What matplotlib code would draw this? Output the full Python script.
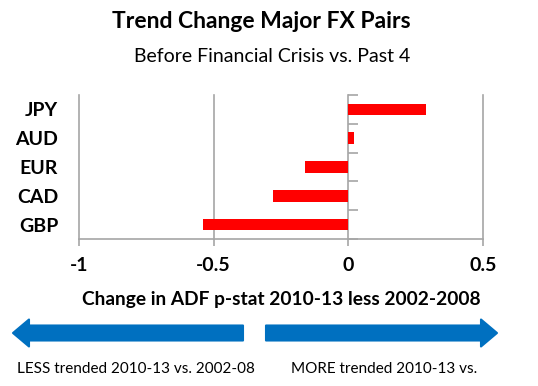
import matplotlib
matplotlib.use("Agg")
import matplotlib.pyplot as plt
from matplotlib.patches import FancyArrow

# Datos
pares = ["JPY", "AUD", "EUR", "CAD", "GBP"]
cambio_adf = [0.29, 0.02, -0.16, -0.28, -0.54]
xticks = [-1, -0.5, 0, 0.5]
xtick_labels = ["-1", "-0.5", "0", "0.5"]

plt.rcParams['font.family'] = ['Lato', 'DejaVu Sans']

fig = plt.figure(figsize=(5.38, 3.86), dpi=100)
ax = fig.add_axes([79/538, 1-239/386, (483-79)/538, (239-95)/386])

ypos = list(range(len(pares)))[::-1]
ax.barh(ypos, cambio_adf, height=0.4, color="#FF0000", zorder=3)

ax.set_xlim(-1, 0.5)
ax.set_ylim(-0.5, len(pares)-0.5)
ax.set_xticks(xticks)
ax.set_xticklabels(xtick_labels, fontsize=14, fontweight="bold")
ax.set_yticks(ypos)
ax.set_yticklabels(pares, fontsize=14, fontweight="bold")

gris = "#A6A6A6"
for x in xticks:
    if x != 0:
        ax.axvline(x, color=gris, lw=1.2, zorder=1, clip_on=False)
for s in ["top", "right", "left"]:
    ax.spines[s].set_visible(False)
ax.spines["bottom"].set_color(gris)
ax.spines["bottom"].set_linewidth(1.2)
ax.tick_params(axis="x", colors=gris, length=5, width=1.2, labelcolor="black", pad=8)
ax.tick_params(axis="y", length=0, pad=15, labelcolor="black")

# eje vertical en x = 0
eje = ax.secondary_yaxis(2/3)
eje.set_yticks([i - 0.5 for i in range(len(pares)+1)])
eje.set_yticklabels([])
for s in eje.spines.values():
    s.set_color(gris)
    s.set_linewidth(1.2)
eje.tick_params(colors=gris, length=7, width=1.2)

fig.text(0.485, 1-22/386, "Trend Change Major FX Pairs", fontsize=16.5, fontweight="bold",
         ha="center", va="center")
fig.text(0.505, 1-57/386, "Before Financial Crisis vs. Past 4", fontsize=14,
         ha="center", va="center")
fig.text(0.523, 1-300/386, "Change in ADF p-stat 2010-13 less 2002-2008", fontsize=13.8,
         fontweight="bold", ha="center", va="center")

azul = "#0070C0"
fig.patches.append(FancyArrow(2.43, 0.53, -2.30, 0, width=0.15, head_width=0.27, head_length=0.16,
                              length_includes_head=True, color=azul, lw=1.5, joinstyle="round",
                              transform=fig.dpi_scale_trans))
fig.patches.append(FancyArrow(2.66, 0.53, 2.31, 0, width=0.15, head_width=0.27, head_length=0.16,
                              length_includes_head=True, color=azul, lw=1.5, joinstyle="round",
                              transform=fig.dpi_scale_trans))

fig.text(17/538, 1-369/386, "LESS trended 2010-13 vs. 2002-08", fontsize=11, ha="left", va="center")
fig.text(291/538, 1-369/386, "MORE trended 2010-13 vs.", fontsize=11, ha="left", va="center")

fig.savefig("out.png", dpi=100)
